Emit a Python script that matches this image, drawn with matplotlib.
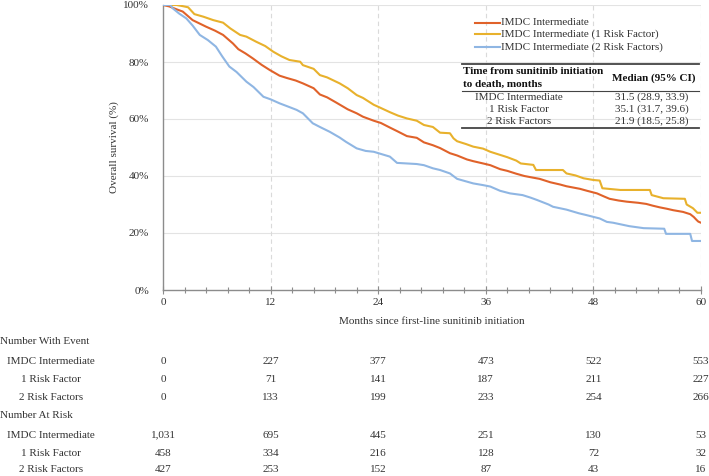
import matplotlib
matplotlib.use("Agg")
import matplotlib.pyplot as plt
from matplotlib.lines import Line2D
from matplotlib.transforms import blended_transform_factory
from matplotlib.ticker import MultipleLocator, FuncFormatter

plt.rcParams['font.family'] = ['Liberation Serif', 'DejaVu Serif']

# ---------------- data ----------------
series_names = ["IMDC Intermediate", "IMDC Intermediate (1 Risk Factor)",
                "IMDC Intermediate (2 Risk Factors)"]
short_names = ["IMDC Intermediate", "1 Risk Factor", "2 Risk Factors"]

t_imdc = [0, 0.7, 1.5, 2.2, 3.3, 4.8, 5.8, 6.7, 7.8, 8.4, 9.2, 10.0, 11.0, 11.9, 13.0,
          13.8, 14.8, 15.6, 16.8, 17.5, 18.3, 19.3, 20.6, 21.6, 22.3, 23.5, 24.3, 25.3,
          26.2, 27.2, 28.3, 29.1, 30.1, 30.9, 32.0, 32.8, 33.9, 34.6, 35.7, 36.5, 37.6,
          38.4, 39.4, 40.3, 41.3, 42.0, 43.2, 44.3, 45.0, 46.5, 47.3, 48.4, 49.2, 49.8,
          50.8, 51.7, 53.0, 53.9, 54.6, 55.4, 56.2, 56.9, 58.0, 58.8, 59.2, 59.5, 59.7, 60]
s_imdc = [100, 99.5, 98.5, 97.7, 94.7, 92.4, 91.0, 89.5, 86.5, 84.5, 83.0, 81.3, 79.0,
          77.2, 75.2, 74.4, 73.5, 72.5, 70.8, 68.6, 67.6, 65.8, 63.4, 62.0, 60.8, 59.4,
          58.6, 57.0, 55.6, 54.0, 53.4, 51.8, 50.8, 49.8, 48.0, 47.2, 45.8, 45.2, 44.4,
          43.8, 42.4, 41.8, 40.8, 40.0, 39.4, 39.0, 37.8, 37.0, 36.4, 35.5, 34.8, 33.9,
          32.8, 32.0, 31.4, 31.0, 30.6, 30.2, 29.6, 29.0, 28.5, 28.0, 27.4, 26.6, 25.6,
          24.6, 24.0, 23.6]

t_rf1 = [0, 1.5, 2.2, 2.8, 3.5, 4.5, 5.6, 6.7, 7.5, 8.6, 9.3, 10.4, 11.4, 12.3, 13.2,
         14.1, 15.3, 15.6, 16.8, 17.5, 18.3, 19.3, 19.7, 20.6, 21.6, 22.3, 23.5, 24.2,
         25.3, 26.2, 27.2, 28.3, 29.1, 30.1, 30.9, 32.0, 32.4, 32.8, 33.8, 34.6, 35.7,
         36.5, 37.6, 38.4, 39.4, 39.9, 41.3, 41.6, 44.6, 45.0, 46.0, 46.9, 48.0, 48.7,
         49.0, 51.0, 54.3, 54.5, 55.8, 58.2, 58.4, 59.1, 59.6, 60]
s_rf1 = [100, 100, 99.6, 99.2, 96.8, 95.9, 94.7, 93.8, 91.8, 89.5, 88.9, 87.1, 85.6,
         83.6, 82.0, 80.7, 80.1, 78.9, 77.6, 75.4, 74.6, 73.1, 72.5, 70.8, 68.4, 67.4,
         65.0, 64.0, 62.4, 61.2, 60.2, 59.4, 57.9, 57.2, 55.2, 55.0, 53.2, 52.2, 51.2,
         50.3, 49.6, 48.5, 47.4, 46.6, 45.4, 44.4, 43.9, 42.1, 42.1, 40.9, 40.2, 39.2,
         38.6, 38.4, 35.7, 35.1, 35.1, 33.3, 32.2, 32.0, 30.0, 28.7, 27.1, 27.1]

t_rf2 = [0, 0.8, 1.1, 1.8, 2.6, 3.3, 4.1, 5.0, 5.9, 6.6, 7.4, 8.2, 9.3, 10.1, 11.2, 12.0,
         13.0, 14.0, 14.9, 15.6, 16.7, 17.5, 18.6, 19.7, 20.4, 21.6, 22.6, 23.5, 25.3,
         26.1, 28.3, 29.1, 30.1, 30.9, 32.0, 32.8, 34.6, 35.7, 36.5, 37.6, 38.7, 40.1,
         41.0, 41.7, 43.0, 43.5, 45.0, 46.4, 47.2, 48.7, 49.5, 50.2, 52.0, 53.6, 55.9,
         56.1, 58.8, 59.0, 60]
s_rf2 = [100, 100, 98.8, 97.0, 95.3, 92.8, 89.5, 87.7, 85.4, 82.0, 78.4, 76.5, 73.1,
         71.2, 67.8, 66.9, 65.5, 64.3, 63.2, 62.0, 58.5, 57.2, 55.5, 53.5, 52.0, 49.7,
         48.8, 48.5, 46.8, 44.6, 44.2, 43.8, 42.7, 42.1, 40.9, 39.0, 37.4, 36.8, 36.3,
         34.8, 33.9, 33.3, 32.4, 31.6, 30.0, 29.2, 28.2, 26.9, 26.3, 25.1, 23.9, 23.6,
         22.4, 21.7, 21.5, 19.7, 19.7, 17.2, 17.2]

colors = ["#E0622A", "#E8B12C", "#8FB6E3"]

medians = ["31.5 (28.9, 33.9)", "35.1 (31.7, 39.6)", "21.9 (18.5, 25.8)"]

table_times = [0, 12, 24, 36, 48, 60]
events_imdc = [0, 227, 377, 473, 522, 553]
events_rf1 = [0, 71, 141, 187, 211, 227]
events_rf2 = [0, 133, 199, 233, 254, 266]
risk_imdc = ["1,031", "695", "445", "251", "130", "53"]
risk_rf1 = [458, 334, 216, 128, 72, 32]
risk_rf2 = [427, 253, 152, 87, 43, 16]

# ---------------- figure ----------------
W, H = 709, 476
fig = plt.figure(figsize=(W / 100, H / 100), dpi=100)

def fx(x):
    return x / W

def fy(y):
    return 1 - y / H

ax = fig.add_axes([fx(163), fy(290), fx(701) - fx(163), fy(5) - fy(290)])

fs = 8
txtc = "#333333"

for t, s, c in zip([t_imdc, t_rf1, t_rf2], [s_imdc, s_rf1, s_rf2], colors):
    ax.plot(t, [v / 100 for v in s], color=c, lw=1.5, zorder=3)

ax.set_xlim(0, 60)
ax.set_ylim(0, 1.0)
ax.xaxis.set_major_locator(MultipleLocator(12))
ax.xaxis.set_minor_locator(MultipleLocator(2.4))
ax.yaxis.set_major_locator(MultipleLocator(0.2))
ax.yaxis.set_major_formatter(FuncFormatter(lambda v, p: f"{int(round(v * 100))}%"))

for y in [0.2, 0.4, 0.6, 0.8, 1.0]:
    ax.axhline(y, color="#E3E3E3", lw=0.8, zorder=1)
for x in [12, 24, 36, 48, 60]:
    ax.axvline(x, color="#DADADA", lw=0.8, ls=(0, (4, 3)), zorder=1)

for sp in ["top", "right"]:
    ax.spines[sp].set_visible(False)
for sp in ["left", "bottom"]:
    ax.spines[sp].set_color("#8C8C8C")
    ax.spines[sp].set_linewidth(1.0)

ax.tick_params(axis="x", which="both", direction="inout", color="#8C8C8C",
               labelsize=fs, labelcolor=txtc, pad=3)
ax.tick_params(axis="x", which="major", length=6, width=0.8)
ax.tick_params(axis="x", which="minor", length=4, width=0.8)
ax.tick_params(axis="y", which="both", length=0, labelsize=fs, labelcolor=txtc, pad=10)

fig.text(fx(114), fy(147), "Overall survival (%)", fontsize=fs, color=txtc,
         rotation=90, ha="center", va="center")
fig.text(fx(432), fy(322), "Months since first-line sunitinib initiation",
         fontsize=fs, color=txtc, ha="center", va="center")

# legend (manual)
leg_y = [22.7, 34.3, 46.7]
for name, c, y in zip(series_names, colors, leg_y):
    fig.add_artist(Line2D([fx(475), fx(500)], [fy(y), fy(y)], color=c, lw=1.5))
    fig.text(fx(501), fy(y), name, fontsize=fs, color=txtc, ha="left", va="center")

# median table inside the plot
fig.add_artist(Line2D([fx(462), fx(699)], [fy(64), fy(64)], color="#444444", lw=1.3))
fig.add_artist(Line2D([fx(462), fx(699)], [fy(90.5), fy(90.5)], color="#444444", lw=0.8))
fig.add_artist(Line2D([fx(462), fx(699)], [fy(128.5), fy(128.5)], color="#444444", lw=1.3))
fig.text(fx(463), fy(72), "Time from sunitinib initiation", fontsize=fs, color="#111111",
         weight="bold", ha="left", va="center")
fig.text(fx(463), fy(84), "to death, months", fontsize=fs, color="#111111",
         weight="bold", ha="left", va="center")
fig.text(fx(654), fy(78), "Median (95% CI)", fontsize=fs, color="#111111",
         weight="bold", ha="center", va="center")
for name, med, y in zip(short_names, medians, [97.5, 109.3, 121]):
    fig.text(fx(519), fy(y), name, fontsize=fs, color=txtc, ha="center", va="center")
    fig.text(fx(652), fy(y), med, fontsize=fs, color=txtc, ha="center", va="center")

# number tables below
tr = blended_transform_factory(ax.transData, fig.transFigure)
fig.text(fx(0), fy(342), "Number With Event", fontsize=fs, color=txtc, ha="left", va="center")
fig.text(fx(0), fy(416), "Number At Risk", fontsize=fs, color=txtc, ha="left", va="center")
rows = [(events_imdc, 361), (events_rf1, 379), (events_rf2, 397),
        (risk_imdc, 435), (risk_rf1, 453), (risk_rf2, 469)]
for i, (vals, y) in enumerate(rows):
    fig.text(fx(51), fy(y), short_names[i % 3], fontsize=fs, color=txtc,
             ha="center", va="center")
    for t, v in zip(table_times, vals):
        ax.text(t, fy(y), str(v), transform=tr, fontsize=fs, color=txtc,
                ha="center", va="center", clip_on=False)

fig.savefig("out.png", dpi=100)
